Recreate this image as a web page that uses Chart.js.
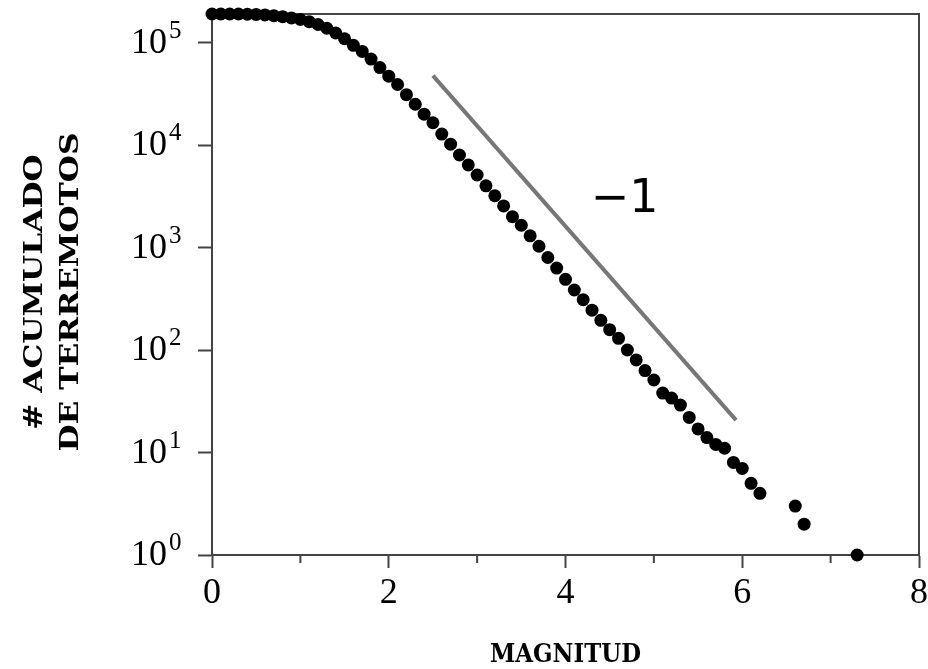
<!DOCTYPE html>
<html>
<head>
    <title>Magnitud</title>
    <script src="https://cdn.jsdelivr.net/npm/chart.js"></script>
    <style>
        body { margin: 0; background: #fff; }
    </style>
</head>
<body>
    <canvas id="gr" width="928" height="669"></canvas>

    <script>
        // magnitud de cada punto y numero acumulado de terremotos
        const magnitudes = [0.0, 0.1, 0.2, 0.3, 0.4, 0.5, 0.6, 0.7, 0.8, 0.9,
            1.0, 1.1, 1.2, 1.3, 1.4, 1.5, 1.6, 1.7, 1.8, 1.9,
            2.0, 2.1, 2.2, 2.3, 2.4, 2.5, 2.6, 2.7, 2.8, 2.9,
            3.0, 3.1, 3.2, 3.3, 3.4, 3.5, 3.6, 3.7, 3.8, 3.9,
            4.0, 4.1, 4.2, 4.3, 4.4, 4.5, 4.6, 4.7, 4.8, 4.9,
            5.0, 5.1, 5.2, 5.3, 5.4, 5.5, 5.6, 5.7, 5.8, 5.9,
            6.0, 6.1, 6.2, 6.6, 6.7, 7.3];
        const counts = [190000, 190000, 190000, 190000, 189000, 188000, 186000, 183000, 179000, 174000,
            168000, 160000, 150000, 138000, 124000, 109000, 94000, 82000, 69000, 57000,
            47000, 39000, 31000, 25000, 20000, 16500, 12800, 10200, 8000, 6400,
            5100, 4000, 3200, 2550, 2000, 1650, 1300, 1030, 800, 630,
            490, 385, 310, 245, 195, 158, 130, 100, 80, 63,
            51, 38, 34, 29, 22, 17, 14, 12, 11, 8,
            7, 5, 4, 3, 2, 1];

        // recta de pendiente -1
        const slopeX = [2.5, 5.93];
        const slopeY = [47600, 20.7];
        const slopeLabel = '\u22121';
        const slopeLabelAt = [4.67, 2880];

        const xMajorTicks = [0, 2, 4, 6, 8];
        const xMinorTicks = [1, 3, 5, 7];
        const yTicks = [1, 10, 100, 1000, 10000, 100000];
        const yTitle = ['# ACUMULADO', 'DE TERREMOTOS'];
        const xTitle = 'MAGNITUD';

        const axisColor = '#444';
        const serif = '"Liberation Serif", "Times New Roman", serif';
        const titleFont = '"DejaVu Serif", serif';

        const extras = {
            id: 'extras',
            beforeDatasetsDraw(chart) {
                const {ctx, chartArea: a, scales: {x}} = chart;
                ctx.save();
                ctx.strokeStyle = axisColor;
                ctx.lineWidth = 2;
                ctx.beginPath();
                ctx.moveTo(a.left, a.top);
                ctx.lineTo(a.right, a.top);
                ctx.lineTo(a.right, a.bottom);
                xMinorTicks.forEach(v => {
                    const px = x.getPixelForValue(v);
                    ctx.moveTo(px, a.bottom);
                    ctx.lineTo(px, a.bottom + 8);
                });
                ctx.stroke();
                ctx.restore();
            },
            afterDraw(chart) {
                const {ctx, chartArea: a, scales: {x, y}} = chart;
                ctx.save();
                ctx.fillStyle = '#000';

                // etiquetas 10^n
                yTicks.forEach(v => {
                    const py = y.getPixelForValue(v);
                    const exp = Math.round(Math.log10(v));
                    ctx.font = '36px ' + serif;
                    ctx.textAlign = 'right';
                    ctx.textBaseline = 'alphabetic';
                    ctx.fillText('10', a.left - 45, py + 10);
                    ctx.font = '25px ' + serif;
                    ctx.textAlign = 'left';
                    ctx.fillText(String(exp), a.left - 43, py - 5);
                });

                // texto de la pendiente
                ctx.font = '46px "DejaVu Sans", sans-serif';
                ctx.textAlign = 'center';
                ctx.textBaseline = 'middle';
                ctx.fillText(slopeLabel, x.getPixelForValue(slopeLabelAt[0]), y.getPixelForValue(slopeLabelAt[1]));

                // titulos de ejes
                ctx.font = 'bold 26px ' + titleFont;
                yTitle.forEach((line, i) => {
                    ctx.save();
                    ctx.translate(35 + i * 36, 292);
                    ctx.rotate(-Math.PI / 2);
                    ctx.scale(1.2, 1);
                    ctx.fillText(line, 0, 0);
                    ctx.restore();
                });
                ctx.save();
                ctx.translate((a.left + a.right) / 2, 655);
                ctx.scale(0.88, 1);
                ctx.font = 'bold 26px ' + titleFont;
                ctx.fillText(xTitle, 0, 0);
                ctx.restore();
                ctx.restore();
            }
        };

        const ctx = document.getElementById('gr').getContext('2d');
        const chart = new Chart(ctx, {
            type: 'scatter',
            data: {
                datasets: [
                    {
                        data: magnitudes.map((m, i) => ({x: m, y: counts[i]})),
                        backgroundColor: '#000',
                        borderWidth: 0,
                        pointRadius: 6.5,
                        clip: false
                    },
                    {
                        type: 'line',
                        data: slopeX.map((m, i) => ({x: m, y: slopeY[i]})),
                        borderColor: '#777',
                        borderWidth: 4,
                        pointRadius: 0,
                        fill: false
                    }
                ]
            },
            options: {
                responsive: false,
                animation: false,
                layout: { padding: { top: 14, right: 9, left: 0, bottom: 0 } },
                plugins: {
                    legend: { display: false },
                    tooltip: { enabled: false }
                },
                scales: {
                    x: {
                        type: 'linear',
                        min: 0,
                        max: 8,
                        afterBuildTicks: s => { s.ticks = xMajorTicks.map(v => ({value: v})); },
                        afterFit: s => { s.height = 114; s.paddingLeft = 0; s.paddingRight = 0; },
                        grid: { drawOnChartArea: false, drawTicks: true, tickLength: 13, tickColor: axisColor, tickWidth: 2 },
                        border: { color: axisColor, width: 2 },
                        ticks: {
                            padding: 8,
                            color: '#000',
                            maxRotation: 0,
                            autoSkip: false,
                            font: { family: serif, size: 36, lineHeight: 1 }
                        }
                    },
                    y: {
                        type: 'logarithmic',
                        min: 1,
                        max: 190000,
                        afterBuildTicks: s => { s.ticks = yTicks.map(v => ({value: v})); },
                        afterFit: s => { s.width = 212; s.paddingTop = 0; s.paddingBottom = 0; },
                        grid: { drawOnChartArea: false, drawTicks: true, tickLength: 14, tickColor: axisColor, tickWidth: 2 },
                        border: { color: axisColor, width: 2 },
                        ticks: { display: false }
                    }
                }
            },
            plugins: [extras]
        });
    </script>
</body>
</html>
